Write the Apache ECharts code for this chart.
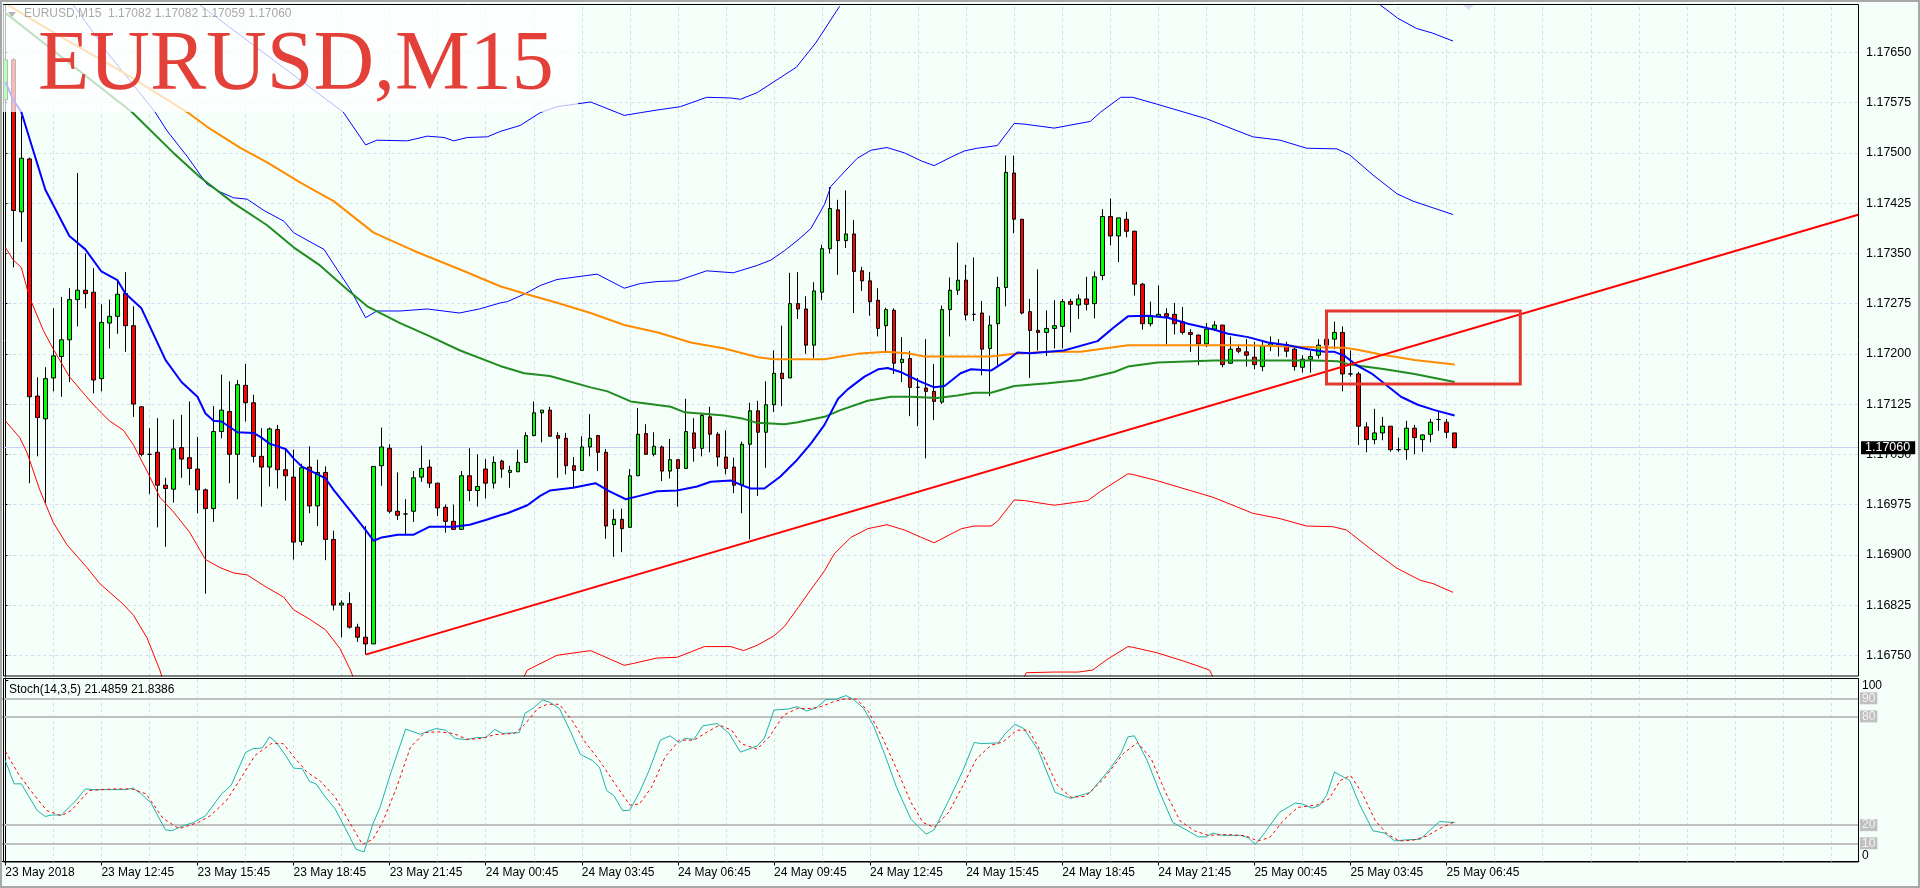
<!DOCTYPE html>
<html>
<head>
<meta charset="UTF-8">
<title>EURUSD,M15</title>
<script src="https://cdn.jsdelivr.net/npm/echarts@6.0.0/dist/echarts.min.js"></script>
<style>
html, body { margin: 0; padding: 0; background: #f5fffa; overflow: hidden; }
#chart { width: 1920px; height: 888px; }
</style>
</head>
<body>
<div id="chart"></div>
<script>
// bars: [open, high, low, close], 15 minute bars from 23 May 09:45
var ohlc = [
[1.17579,1.17672,1.17571,1.17639],[1.17639,1.17642,1.17329,1.17414],[1.17412,1.17555,1.17367,1.17492],[1.17491,1.17493,1.17007,1.17136],
[1.17137,1.17165,1.17047,1.17105],[1.17103,1.17180,1.16977,1.17163],[1.17164,1.17268,1.17144,1.17197],[1.17196,1.17285,1.17136,1.17221],
[1.17221,1.17298,1.17158,1.17281],[1.17281,1.17470,1.17241,1.17295],[1.17295,1.17350,1.17268,1.17290],[1.17292,1.17328,1.17141,1.17161],
[1.17163,1.17274,1.17144,1.17247],[1.17246,1.17281,1.17208,1.17256],[1.17256,1.17309,1.17230,1.17289],[1.17290,1.17322,1.17203,1.17242],
[1.17242,1.17271,1.17106,1.17125],[1.17121,1.17122,1.17047,1.17050],[1.17050,1.17089,1.16991,1.17050],[1.17053,1.17104,1.16941,1.17004],
[1.17004,1.17015,1.16912,1.16999],[1.16998,1.17102,1.16978,1.17058],[1.17060,1.17109,1.17015,1.17043],[1.17045,1.17129,1.17004,1.17029],
[1.17028,1.17076,1.16962,1.16997],[1.16997,1.16999,1.16842,1.16969],[1.16969,1.17122,1.16949,1.17084],[1.17084,1.17169,1.17074,1.17116],
[1.17114,1.17159,1.17007,1.17050],[1.17050,1.17161,1.16983,1.17154],[1.17153,1.17185,1.17099,1.17127],[1.17127,1.17139,1.17038,1.17047],
[1.17047,1.17089,1.16972,1.17031],[1.17031,1.17090,1.17002,1.17088],[1.17087,1.17094,1.16999,1.17027],[1.17027,1.17057,1.16981,1.17018],
[1.17016,1.17057,1.16893,1.16919],[1.16920,1.17036,1.16914,1.17030],[1.17031,1.17062,1.16962,1.16973],[1.16973,1.17042,1.16943,1.17023],
[1.17023,1.17032,1.16892,1.16923],[1.16923,1.16936,1.16817,1.16825],[1.16825,1.16832,1.16777,1.16828],[1.16827,1.16844,1.16790,1.16792],
[1.16792,1.16797,1.16770,1.16777],[1.16777,1.16943,1.16751,1.16767],[1.16767,1.17032,1.16767,1.17032],[1.17033,1.17090,1.17003,1.17061],
[1.17059,1.17065,1.16962,1.16965],[1.16965,1.17023,1.16952,1.16959],[1.16961,1.16983,1.16929,1.16961],[1.16965,1.17025,1.16949,1.17015],
[1.17016,1.17063,1.17009,1.17029],[1.17031,1.17042,1.17000,1.17007],[1.17007,1.17007,1.16958,1.16970],[1.16971,1.16975,1.16933,1.16950],
[1.16950,1.16975,1.16937,1.16938],[1.16938,1.17025,1.16937,1.17018],[1.17018,1.17059,1.16980,1.16996],[1.16996,1.17050,1.16972,1.17002],
[1.17028,1.17043,1.16984,1.17007],[1.17007,1.17047,1.16999,1.17038],[1.17040,1.17042,1.17015,1.17028],[1.17023,1.17033,1.17000,1.17026],
[1.17024,1.17057,1.17024,1.17038],[1.17038,1.17083,1.17038,1.17078],[1.17078,1.17129,1.17077,1.17112],[1.17112,1.17116,1.17068,1.17116],
[1.17116,1.17121,1.17077,1.17077],[1.17078,1.17083,1.17015,1.17074],[1.17074,1.17082,1.17020,1.17033],[1.17033,1.17046,1.17000,1.17026],
[1.17026,1.17077,1.17026,1.17061],[1.17061,1.17110,1.17047,1.17074],[1.17078,1.17079,1.17025,1.17053],[1.17053,1.17058,1.16924,1.16943],
[1.16945,1.16968,1.16897,1.16953],[1.16953,1.16969,1.16904,1.16939],[1.16941,1.17028,1.16941,1.17018],[1.17018,1.17119,1.17018,1.17080],
[1.17081,1.17095,1.17050,1.17050],[1.17050,1.17083,1.17047,1.17062],[1.17061,1.17063,1.17010,1.17025],[1.17025,1.17073,1.17014,1.17042],
[1.17042,1.17042,1.16972,1.17029],[1.17029,1.17133,1.17029,1.17084],[1.17082,1.17104,1.17039,1.17059],[1.17059,1.17112,1.17047,1.17108],
[1.17106,1.17121,1.17053,1.17080],[1.17080,1.17083,1.17032,1.17046],[1.17046,1.17086,1.17020,1.17029],[1.17031,1.17045,1.16992,1.17004],
[1.17004,1.17069,1.16962,1.17065],[1.17065,1.17127,1.16923,1.17115],[1.17115,1.17130,1.16988,1.17083],[1.17083,1.17159,1.17030,1.17124],
[1.17124,1.17205,1.17113,1.17171],[1.17171,1.17242,1.17122,1.17163],[1.17164,1.17321,1.17164,1.17275],[1.17275,1.17322,1.17252,1.17267],
[1.17267,1.17286,1.17200,1.17213],[1.17213,1.17307,1.17194,1.17294],[1.17292,1.17363,1.17280,1.17357],[1.17357,1.17449,1.17350,1.17417],
[1.17415,1.17430,1.17318,1.17369],[1.17369,1.17444,1.17358,1.17379],[1.17379,1.17400,1.17261,1.17323],[1.17324,1.17330,1.17294,1.17309],
[1.17309,1.17322,1.17257,1.17278],[1.17280,1.17298,1.17226,1.17238],[1.17242,1.17269,1.17202,1.17266],[1.17265,1.17268,1.17170,1.17186],
[1.17187,1.17225,1.17158,1.17192],[1.17193,1.17204,1.17107,1.17150],[1.17150,1.17164,1.17092,1.17150],[1.17149,1.17222,1.17044,1.17144],
[1.17144,1.17185,1.17101,1.17129],[1.17128,1.17272,1.17125,1.17266],[1.17266,1.17314,1.17226,1.17295],[1.17295,1.17366,1.17288,1.17310],
[1.17310,1.17333,1.17250,1.17258],[1.17259,1.17344,1.17249,1.17259],[1.17261,1.17279,1.17168,1.17207],[1.17208,1.17257,1.17137,1.17243],
[1.17245,1.17315,1.17183,1.17299],[1.17299,1.17496,1.17271,1.17471],[1.17470,1.17496,1.17380,1.17401],[1.17401,1.17401,1.17259,1.17261],
[1.17263,1.17282,1.17164,1.17235],[1.17235,1.17326,1.17205,1.17232],[1.17232,1.17265,1.17197,1.17238],[1.17238,1.17280,1.17208,1.17242],
[1.17241,1.17282,1.17208,1.17278],[1.17278,1.17282,1.17232,1.17274],[1.17273,1.17289,1.17252,1.17282],[1.17282,1.17315,1.17265,1.17274],
[1.17275,1.17323,1.17253,1.17315],[1.17317,1.17416,1.17310,1.17405],[1.17405,1.17432,1.17362,1.17376],[1.17376,1.17403,1.17337,1.17403],
[1.17401,1.17412,1.17374,1.17383],[1.17383,1.17384,1.17287,1.17304],[1.17304,1.17306,1.17236,1.17245],[1.17245,1.17278,1.17241,1.17257],
[1.17256,1.17302,1.17256,1.17259],[1.17260,1.17268,1.17214,1.17256],[1.17259,1.17276,1.17229,1.17245],[1.17248,1.17270,1.17229,1.17232],
[1.17232,1.17237,1.17203,1.17229],[1.17228,1.17229,1.17183,1.17215],[1.17215,1.17246,1.17210,1.17237],[1.17237,1.17249,1.17234,1.17243],
[1.17243,1.17243,1.17180,1.17184],[1.17186,1.17226,1.17185,1.17207],[1.17208,1.17214,1.17201,1.17204],[1.17203,1.17222,1.17181,1.17198],
[1.17195,1.17218,1.17177,1.17184],[1.17181,1.17219,1.17174,1.17212],[1.17212,1.17226,1.17204,1.17215],[1.17214,1.17222,1.17196,1.17214],
[1.17214,1.17218,1.17195,1.17204],[1.17207,1.17209,1.17175,1.17181],[1.17180,1.17198,1.17172,1.17192],[1.17192,1.17204,1.17172,1.17196],
[1.17198,1.17222,1.17193,1.17213],[1.17213,1.17223,1.17207,1.17222],[1.17222,1.17248,1.17207,1.17232],[1.17232,1.17241,1.17144,1.17170],
[1.17170,1.17205,1.17166,1.17170],[1.17170,1.17173,1.17064,1.17092],[1.17091,1.17098,1.17053,1.17072],[1.17072,1.17118,1.17065,1.17082],
[1.17082,1.17106,1.17071,1.17092],[1.17092,1.17092,1.17054,1.17057],[1.17057,1.17075,1.17054,1.17057],[1.17057,1.17100,1.17042,1.17089],
[1.17089,1.17094,1.17050,1.17075],[1.17072,1.17080,1.17054,1.17079],[1.17080,1.17103,1.17068,1.17098],[1.17102,1.17114,1.17085,1.17102],
[1.17098,1.17103,1.17074,1.17083],[1.17082,1.17082,1.17059,1.17060]
];

// indicator lines: [bar, price]
var maFast = [[0,1.17606],[1,1.17579],[2,1.17561],[5,1.17445],[8,1.17376],[10,1.17356],[12,1.17323],[14,1.17310],[15,1.17290],[17,1.17268],[20,1.17191],[22,1.17158],[24,1.17136],[25,1.17111],[26,1.17100],[27,1.17099],[29,1.17083],[31,1.17082],[32,1.17075],[33,1.17066],[35,1.17058],[36,1.17044],[37,1.17032],[39,1.17020],[40,1.17014],[41,1.16997],[43,1.16967],[45,1.16937],[46,1.16921],[47,1.16926],[49,1.16930],[51,1.16930],[53,1.16942],[56,1.16942],[58,1.16945],[60,1.16952],[61.8,1.16959],[62.7,1.16962],[65.2,1.16974],[66.8,1.16988],[68,1.16996],[70.9,1.17000],[73.7,1.17007],[75.4,1.16995],[77.5,1.16983],[79.2,1.16988],[81.4,1.16995],[83.9,1.16996],[86.4,1.17002],[88.1,1.17009],[90.6,1.17011],[92.2,1.17003],[93.1,1.16999],[94.8,1.16999],[96.8,1.17017],[98.9,1.17042],[100.6,1.17066],[102.3,1.17094],[104,1.17133],[105.2,1.17147],[107.3,1.17166],[109,1.17177],[110.2,1.17179],[111.8,1.17173],[114,1.17160],[116,1.17150],[117.3,1.17152],[119.3,1.17171],[120.6,1.17177],[123.1,1.17175],[125.2,1.17191],[126.4,1.17202],[128,1.17201],[132.2,1.17205],[136.4,1.17219],[138.5,1.17240],[140.2,1.17256],[142.7,1.17257],[145.2,1.17254],[147.7,1.17245],[151,1.17236],[152.7,1.17230],[155.2,1.17225],[157.7,1.17217],[160.2,1.17213],[162.7,1.17207],[164.75,1.17203],[166,1.17203],[167.25,1.17197],[168.9,1.17182],[170.6,1.17171],[172.3,1.17155],[174.3,1.17136],[176.4,1.17124],[178.5,1.17116],[181,1.17108]];
var maMid = [[0,1.17709],[8,1.17634],[15.8,1.17561],[21,1.17500],[24.3,1.17464],[28.5,1.17425],[32.7,1.17392],[36,1.17359],[39.3,1.17332],[42.7,1.17296],[45.2,1.17271],[49.3,1.17246],[52.7,1.17228],[56.8,1.17205],[61.8,1.17182],[64.8,1.17171],[68,1.17167],[73.1,1.17150],[75.2,1.17144],[78.1,1.17129],[83.1,1.17121],[84.8,1.17113],[89.8,1.17108],[92.2,1.17103],[93.9,1.17097],[97.3,1.17095],[99,1.17098],[102.3,1.17106],[104.3,1.17116],[107.7,1.17130],[110.6,1.17136],[113.1,1.17136],[116.4,1.17134],[118.9,1.17138],[121,1.17142],[123.1,1.17142],[126,1.17152],[130.2,1.17156],[134.3,1.17161],[138.5,1.17173],[140.2,1.17181],[143.9,1.17187],[151,1.17190],[163.5,1.17190],[166.4,1.17189],[167.6,1.17185],[169.3,1.17182],[172.3,1.17177],[176,1.17170],[181,1.17158]];
var maSlow = [[0.3,1.17721],[7,1.17673],[14.6,1.17621],[22.7,1.17561],[25.2,1.17539],[29.3,1.17508],[32.7,1.17486],[36.8,1.17456],[41,1.17428],[46,1.17381],[51,1.17354],[56.8,1.17326],[61.8,1.17301],[64.8,1.17290],[69,1.17276],[73.1,1.17261],[77.3,1.17243],[81.5,1.17232],[85.6,1.17217],[89.8,1.17208],[94,1.17195],[96,1.17192],[102.3,1.17192],[104.3,1.17196],[106.4,1.17200],[110,1.17203],[112.7,1.17201],[114.8,1.17196],[123.1,1.17196],[126,1.17200],[130.2,1.17203],[134.3,1.17203],[140.2,1.17213],[155.2,1.17213],[163.5,1.17210],[167.25,1.17209],[168.9,1.17206],[171.8,1.17199],[176,1.17191],[181,1.17184]];
var bandInUp = [[8.5,1.17721],[13,1.17646],[18.7,1.17561],[20.2,1.17533],[22.7,1.17495],[25.2,1.17453],[26.8,1.17442],[28.5,1.17433],[30.2,1.17431],[32.3,1.17414],[34.8,1.17398],[36,1.17381],[38.1,1.17367],[39.8,1.17356],[41,1.17334],[43.1,1.17296],[45,1.17254],[46.4,1.17264],[49.3,1.17264],[52.7,1.17267],[56.7,1.17261],[59.2,1.17267],[61.8,1.17276],[62.7,1.17278],[64.8,1.17289],[66.8,1.17302],[68.9,1.17311],[73.9,1.17319],[77.3,1.17298],[79.3,1.17305],[81.4,1.17308],[83.9,1.17309],[87.6,1.17324],[90.9,1.17321],[93.9,1.17332],[95.6,1.17340],[97.3,1.17354],[99,1.17370],[100.6,1.17387],[102.3,1.17423],[103.1,1.17450],[104.8,1.17472],[106.4,1.17492],[108.1,1.17504],[110.1,1.17508],[112.3,1.17500],[114.4,1.17488],[116,1.17481],[118.5,1.17496],[119.8,1.17503],[121.4,1.17507],[123.9,1.17511],[126,1.17544],[127.25,1.17543],[131,1.17537],[135.5,1.17547],[136.8,1.17561],[139.3,1.17583],[140.8,1.17583],[143.75,1.17573],[150,1.17551],[151.7,1.17543],[155.8,1.17524],[159.2,1.17519],[162.5,1.17507],[166.3,1.17506],[167.9,1.17497],[170.8,1.17467],[173.8,1.17439],[175.8,1.17428],[178.3,1.17418],[180.8,1.17408]];
var bandOutUp = [[24.3,1.17721],[33,1.17643],[42.2,1.17561],[45,1.17512],[46.4,1.17519],[50.2,1.17518],[52.7,1.17525],[54.8,1.17523],[56,1.17518],[57.7,1.17523],[60.2,1.17524],[61.8,1.17532],[64.3,1.17541],[66.8,1.17560],[68.9,1.17569],[73.1,1.17576],[77.3,1.17556],[79.3,1.17560],[81.4,1.17564],[84.3,1.17569],[87.6,1.17583],[90.6,1.17582],[91.8,1.17580],[93.9,1.17590],[98.8,1.17628],[101.2,1.17664],[104.2,1.17719],[104.4,null],[171.7,1.17721],[173.9,1.17701],[176.2,1.17686],[178.2,1.17679],[180.8,1.17667]];
var bandInLow = [[0,1.17359],[1,1.17340],[2,1.17329],[3,1.17285],[4.75,1.17235],[6,1.17207],[8,1.17166],[10,1.17138],[11.4,1.17119],[13,1.17100],[14.75,1.17086],[16,1.17064],[17.7,1.17025],[19.3,1.16986],[21,1.16964],[23,1.16934],[25,1.16893],[26.8,1.16881],[28.5,1.16873],[30.2,1.16870],[32.7,1.16851],[34.75,1.16837],[36,1.16818],[38,1.16804],[40,1.16788],[41.8,1.16760],[43.1,1.16728],[44,1.16700],[44.2,null],[64,1.16700],[65.2,1.16728],[68.9,1.16750],[73.1,1.16757],[77.3,1.16735],[78.5,1.16738],[81.4,1.16746],[83.9,1.16747],[87.3,1.16763],[90.6,1.16763],[92.2,1.16757],[93.9,1.16765],[96,1.16779],[97.3,1.16793],[99,1.16821],[100.6,1.16848],[102.3,1.16876],[103.5,1.16901],[105.6,1.16926],[107.7,1.16939],[110.1,1.16945],[112.3,1.16937],[114.4,1.16926],[116,1.16918],[118.1,1.16931],[119.4,1.16939],[121,1.16943],[123.1,1.16943],[123.9,1.16950],[126,1.16982],[127.25,1.16981],[131,1.16974],[135.2,1.16981],[136.8,1.16995],[140.2,1.17021],[140.8,1.17020],[143.75,1.17011],[150.8,1.16986],[155.8,1.16962],[159.2,1.16954],[162.5,1.16943],[165.8,1.16942],[167.5,1.16937],[170.8,1.16906],[173.8,1.16880],[176.7,1.16862],[178.3,1.16857],[180.8,1.16844]];
var bandOutLow = [[0,1.17100],[1.8,1.17075],[2.7,1.17053],[4.3,1.16997],[6,1.16948],[7.7,1.16915],[10.2,1.16881],[11.8,1.16857],[14.75,1.16826],[16,1.16810],[17.7,1.16776],[19.3,1.16728],[20,1.16700],[20.2,null],[126.5,1.16700],[127.5,1.16724],[131,1.16725],[134,1.16725],[135.8,1.16728],[137.5,1.16743],[140.2,1.16763],[140.8,1.16762],[143.75,1.16754],[147,1.16742],[150.4,1.16728],[151.5,1.16700]];

// stochastic (14,3,5): main and signal
var stochMain = [[0,55.7],[1.1,42.8],[2,42.8],[4,28.0],[5,24.8],[5.8,25.6],[7,25.6],[8.8,33.5],[10,40.0],[11.1,39.6],[15,39.6],[16,40.4],[17,37.2],[18.2,32.2],[20,17.4],[20.8,16.9],[22,19.3],[23.5,21.5],[25,25.2],[27,37.2],[28.2,41.9],[30,60.0],[30.9,62.2],[32.1,62.6],[33,68.7],[33.8,65.9],[35,58.5],[36,51.5],[37.1,51.1],[38,44.1],[38.8,42.8],[40,35.4],[41.2,28.9],[42.4,18.7],[43.8,6.7],[44.8,5.2],[45.9,20.6],[46.8,29.8],[48.2,49.6],[50,73.0],[51.8,70.2],[53.8,73.3],[55,72.4],[56.2,67.8],[57.6,67.2],[58.9,68.3],[60,68.3],[61.1,72.8],[62.1,70.6],[64.2,71.1],[64.9,81.7],[66,84.8],[67.1,89.1],[68,87.8],[69.2,84.4],[70.6,71.5],[71.8,59.1],[73.3,55.7],[74.2,52.0],[75.1,39.1],[76,36.3],[77.1,28.0],[78,28.3],[79.2,38.1],[80.4,50.2],[81.8,66.9],[83,69.3],[84.2,65.4],[84.8,67.8],[86,67.4],[87.1,74.8],[88.9,76.1],[90.4,70.6],[91.8,60.3],[93.9,63.7],[94.8,68.1],[96,83.5],[97.8,84.1],[98.9,85.4],[100.1,83.0],[101.3,84.8],[102.5,89.4],[103.7,89.4],[105,91.5],[106,89.1],[107.2,84.4],[108.4,75.2],[109.8,59.4],[111.3,40.9],[113.1,23.3],[114,19.3],[115,15.0],[116,17.4],[117.8,33.5],[119.6,50.2],[121,65.6],[121.9,65.0],[124,65.4],[124.9,70.6],[126.1,75.6],[127.2,73.3],[129,61.3],[131.1,38.1],[133.1,34.8],[135.5,38.1],[137.8,50.2],[139.3,59.4],[140.2,68.7],[141,69.3],[142.6,55.7],[144,40.0],[145.8,21.5],[147.3,17.8],[149,13.5],[149.9,13.5],[150.8,15.6],[152,14.4],[154.3,14.4],[155.2,13.1],[156.1,9.4],[157.3,15.9],[159.1,27.0],[161.1,32.2],[162,31.7],[163.2,29.4],[164.1,30.7],[165,36.3],[166,49.3],[167.9,44.6],[169.1,31.7],[170.8,16.9],[172.3,15.6],[173.5,11.3],[175,11.9],[176.7,12.2],[179.1,22.0],[181,21.49]];
var stochSignal = [[0,60.7],[1.7,47.8],[3.5,37.2],[5.2,28.0],[7,25.2],[8.2,28.0],[10.5,39.1],[13.5,40.0],[15.8,40.0],[17.6,37.2],[19.7,23.7],[21.7,18.1],[24.1,21.5],[25.6,25.2],[27.6,33.5],[29.1,43.7],[31.2,58.5],[33.2,65.0],[34.7,65.0],[35.9,58.5],[37.6,49.6],[39.4,44.1],[41.2,35.4],[43,21.5],[44.6,9.4],[45.9,12.2],[47.1,21.5],[48.8,40.0],[50.6,63.1],[52.4,71.1],[54.1,71.5],[56,70.6],[57.6,67.4],[59.4,67.8],[61.2,70.0],[63.6,70.6],[64.8,75.2],[66.5,84.4],[67.7,86.7],[69.2,86.7],[70.9,77.0],[72.4,65.9],[74.2,55.7],[76,43.7],[78,31.1],[79.2,31.7],[80.7,40.9],[82.4,57.6],[84.2,66.9],[86,66.9],[87.7,71.5],[89.2,75.2],[90.7,72.4],[91.9,65.0],[93.9,61.9],[95.4,68.7],[97.2,80.7],[98.9,84.4],[100.7,84.4],[101.9,85.4],[103.4,88.1],[104.8,89.6],[106.3,89.6],[107.8,82.6],[109.6,67.8],[111.3,51.1],[113.1,32.6],[114.6,21.5],[116,18.7],[117.8,27.0],[119.6,41.9],[121.3,56.7],[123.1,64.1],[124.6,65.9],[126.3,72.4],[127.8,72.4],[129.6,58.5],[131.4,41.9],[133.1,35.4],[134.9,35.9],[137.2,45.6],[139.6,59.4],[141.4,65.6],[143.1,56.7],[144.9,38.1],[146.7,22.4],[148.5,16.9],[150.2,14.4],[152.6,14.8],[154.9,14.1],[156.4,11.3],[157.9,13.1],[159.6,22.4],[161.4,29.8],[163.8,31.1],[165.3,34.4],[166.7,44.6],[168,47.4],[169.4,38.1],[171.1,22.4],[172.6,15.0],[174.1,11.3],[175.8,11.7],[177.6,14.1],[179.1,18.1],[181,21.84]];

var priceTicks = [1.16750,1.16825,1.16900,1.16975,1.17050,1.17125,1.17200,1.17275,1.17350,1.17425,1.17500,1.17575,1.17650];
var tickLabels = ['23 May 2018','23 May 12:45','23 May 15:45','23 May 18:45','23 May 21:45','24 May 00:45','24 May 03:45','24 May 06:45',
                  '24 May 09:45','24 May 12:45','24 May 15:45','24 May 18:45','24 May 21:45','25 May 00:45','25 May 03:45','25 May 06:45'];
var stochLevels = [90, 80, 20, 10];
var trendLine = [[45, 1.16751], [231.5, 1.17408]];
var boxArea = [[165, 1.17264], [189.2, 1.17155]];
var lastPrice = 1.17060;

var slots = 232;   // bar slots across the pane
var categories = [];
var t0 = Date.UTC(2018, 4, 23, 9, 45);
for (var i = 0; i < slots; i++) {
    var d = new Date(t0 + i * 900000);
    categories.push(d.getUTCDate() + ' May ' + ('0' + d.getUTCHours()).slice(-2) + ':' + ('0' + d.getUTCMinutes()).slice(-2));
}

var vGrid = [];
for (var k = 6; k < slots; k += 6) vGrid.push({ xAxis: k });

var gridLine = { color: '#d6dcf0', width: 1, type: [3, 3] };
var font = 'Liberation Sans';

var myChart = echarts.init(document.getElementById('chart'), null, { renderer: 'canvas' });

var option = {
    animation: false,
    backgroundColor: '#f5fffa',
    textStyle: { fontFamily: font },
    grid: [
        { left: 1.3, right: 61, top: 5, height: 671, outerBoundsMode: 'none' },
        { left: 1.3, right: 61, top: 678, height: 184, outerBoundsMode: 'none' }
    ],
    xAxis: [
        { type: 'category', gridIndex: 0, data: categories, boundaryGap: true, show: false },
        { type: 'value', gridIndex: 0, min: -0.5, max: slots - 0.5, show: false },
        {
            type: 'category', gridIndex: 1, data: categories, boundaryGap: true,
            axisLine: { show: true, lineStyle: { color: '#000', width: 1 } },
            axisTick: { show: true, alignWithLabel: true, length: 4, lineStyle: { color: '#000' },
                        interval: function (idx) { return idx % 12 === 0 && idx <= 180; } },
            axisLabel: { show: true, color: '#000', fontSize: 12, fontFamily: font, align: 'left', margin: 5,
                         interval: function (idx) { return idx % 12 === 0 && idx <= 180; },
                         formatter: function (v, idx) { return tickLabels[idx / 12] || ''; } },
            splitLine: { show: false }
        },
        { type: 'value', gridIndex: 1, min: -0.5, max: slots - 0.5, show: false }
    ],
    yAxis: [
        {
            type: 'value', gridIndex: 0, position: 'right', min: 1.167191, max: 1.177208,
            axisLine: { show: true, lineStyle: { color: '#000', width: 1 } },
            axisTick: { show: true, length: 5, customValues: priceTicks, lineStyle: { color: '#000' } },
            axisLabel: { show: true, customValues: priceTicks, color: '#000', fontSize: 12.5, fontFamily: font, margin: 7,
                         formatter: function (v) { return v.toFixed(5); } },
            splitLine: { show: false }
        },
        {
            type: 'value', gridIndex: 1, position: 'right', min: -0.33, max: 101.2,
            axisLine: { show: true, lineStyle: { color: '#000', width: 1 } },
            axisTick: { show: true, length: 3, customValues: [100], lineStyle: { color: '#000' } },
            axisLabel: { show: true, customValues: [100], color: '#000', fontSize: 12, fontFamily: font, margin: 3, verticalAlign: 'top' },
            splitLine: { show: false }
        },
        {
            type: 'value', gridIndex: 1, position: 'right', min: -0.33, max: 101.2,
            axisLine: { show: false }, axisTick: { show: false },
            axisLabel: { show: true, customValues: [0], color: '#000', fontSize: 12, fontFamily: font, margin: 3, verticalAlign: 'bottom' },
            splitLine: { show: false }
        }
    ],
    series: [
        {
            name: 'EURUSD', type: 'candlestick', xAxisIndex: 0, yAxisIndex: 0, z: 2, barWidth: 4,
            data: ohlc.map(function (r) { return [r[0], r[3], r[2], r[1]]; }),
            itemStyle: { color: '#00ff00', color0: '#ff0000', borderColor: '#000000', borderColor0: '#000000', borderColorDoji: '#000000', borderWidth: 1 }
        },
        { name: 'band out up', type: 'line', xAxisIndex: 1, yAxisIndex: 0, z: 3, data: bandOutUp, symbol: 'none', lineStyle: { color: '#0000ff', width: 1 } },
        { name: 'band in up', type: 'line', xAxisIndex: 1, yAxisIndex: 0, z: 3, data: bandInUp, symbol: 'none', lineStyle: { color: '#0000ff', width: 1 } },
        { name: 'band in low', type: 'line', xAxisIndex: 1, yAxisIndex: 0, z: 3, data: bandInLow, symbol: 'none', lineStyle: { color: '#ff0000', width: 1 } },
        { name: 'band out low', type: 'line', xAxisIndex: 1, yAxisIndex: 0, z: 3, data: bandOutLow, symbol: 'none', lineStyle: { color: '#ff0000', width: 1 } },
        { name: 'ma slow', type: 'line', xAxisIndex: 1, yAxisIndex: 0, z: 3, data: maSlow, symbol: 'none', lineStyle: { color: '#ff8c00', width: 2 } },
        { name: 'ma mid', type: 'line', xAxisIndex: 1, yAxisIndex: 0, z: 3, data: maMid, symbol: 'none', lineStyle: { color: '#228b22', width: 2 } },
        { name: 'ma fast', type: 'line', xAxisIndex: 1, yAxisIndex: 0, z: 3, data: maFast, symbol: 'none', lineStyle: { color: '#0000ff', width: 2 } },
        {
            name: 'trend', type: 'line', xAxisIndex: 1, yAxisIndex: 0, z: 4, data: trendLine, symbol: 'none',
            lineStyle: { color: '#ff0000', width: 2 },
            markLine: {
                silent: true, z: 1, symbol: ['none', 'none'], animation: false, precision: 6,
                label: { show: false },
                lineStyle: gridLine,
                data: vGrid.concat(priceTicks.map(function (p) { return { yAxis: p }; })).concat([{
                    yAxis: lastPrice,
                    lineStyle: { color: '#c9cff5', width: 1, type: 'solid' },
                    label: { show: true, position: 'end', distance: 2, formatter: lastPrice.toFixed(5),
                             color: '#ffffff', backgroundColor: '#000000', fontSize: 12.5, fontFamily: font,
                             padding: [0, 5, 0, 4], lineHeight: 13 }
                }])
            },
            markArea: {
                silent: true, z: 10,
                itemStyle: { color: 'rgba(0,0,0,0)', borderColor: '#e5392f', borderWidth: 3 },
                data: [[{ coord: boxArea[0] }, { coord: boxArea[1] }]]
            }
        },
        {
            name: 'Stoch main', type: 'line', xAxisIndex: 3, yAxisIndex: 1, z: 3, data: stochMain, symbol: 'none',
            lineStyle: { color: '#20b2aa', width: 1 },
            markLine: {
                silent: true, z: 1, symbol: ['none', 'none'], animation: false, precision: 2,
                label: { show: false },
                lineStyle: gridLine,
                data: vGrid.concat(stochLevels.map(function (v) {
                    return {
                        yAxis: v,
                        lineStyle: { color: '#c0c0c0', width: 2, type: 'solid' },
                        label: { show: true, position: 'end', distance: 1, formatter: String(v), color: '#f4f4f4',
                                 backgroundColor: '#c0c0c0', fontSize: 12, fontFamily: font, padding: [0, 2], lineHeight: 12 }
                    };
                }))
            }
        },
        { name: 'Stoch signal', type: 'line', xAxisIndex: 3, yAxisIndex: 1, z: 3, data: stochSignal, symbol: 'none',
          lineStyle: { color: '#ff0000', width: 1, type: [3, 3] } }
    ],
    graphic: [
        { type: 'rect', z: 100, shape: { x: 3, y: 5, width: 575, height: 107 }, style: { fill: 'rgba(255,255,255,0.72)' } },
        { type: 'polygon', z: 101, shape: { points: [[8, 12], [16, 12], [12, 17]] }, style: { fill: '#b4b4b4' } },
        { type: 'text', z: 101, style: { x: 24, y: 14, text: 'EURUSD,M15  1.17082 1.17082 1.17059 1.17060', font: '12px "Liberation Sans"', fill: '#a8a8a8', verticalAlign: 'middle' } },
        { type: 'text', z: 101, style: { x: 38, y: 67, text: 'EURUSD,M15', font: '84px "Liberation Serif"', fill: '#e3403a', verticalAlign: 'middle' } },
        { type: 'polygon', z: 101, shape: { points: [[1463, 5], [1474, 5], [1468.5, 10]] }, style: { fill: '#dcdcf4' } },
        { type: 'text', z: 101, style: { x: 9, y: 690, text: 'Stoch(14,3,5) 21.4859 21.8386', font: '12px "Liberation Sans"', fill: '#000', verticalAlign: 'middle' } },
        { type: 'rect', z: 90, shape: { x: 3.5, y: 4.5, width: 1855, height: 671.5 }, style: { fill: 'none', stroke: '#000', lineWidth: 1 } },
        { type: 'rect', z: 90, shape: { x: 3.5, y: 678.5, width: 1855, height: 183.5 }, style: { fill: 'none', stroke: '#000', lineWidth: 1 } },
        { type: 'rect', z: 90, shape: { x: 1, y: 1, width: 1918, height: 886 }, style: { fill: 'none', stroke: '#a8a8a8', lineWidth: 2 } }
    ]
};

myChart.setOption(option);
</script>
</body>
</html>
